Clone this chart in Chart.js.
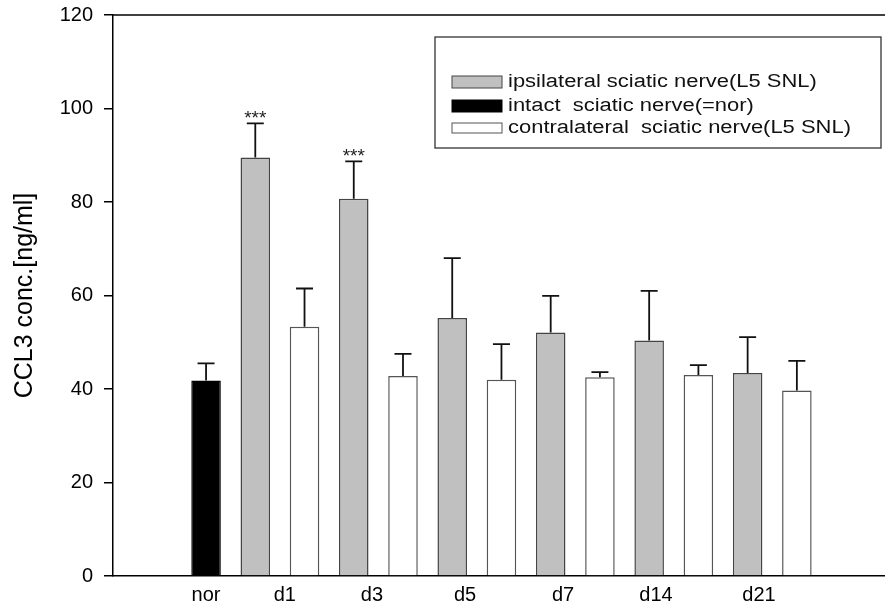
<!DOCTYPE html>
<html>
<head>
<meta charset="utf-8">
<script src="https://cdn.jsdelivr.net/npm/chart.js@4.4.1/dist/chart.umd.min.js"></script>
<style>
    html, body { margin: 0; padding: 0; background: #fff; }
    #wrap { width: 885px; height: 609px; }
</style>
</head>
<body>
<div id="wrap"><canvas id="chart"></canvas></div>
<script>
// Groups along the x axis
const groups = ['nor', 'd1', 'd3', 'd5', 'd7', 'd14', 'd21'];

// intact sciatic nerve (nor)
const intactMean = [41.8];
const intactErr = [3.7];

// ipsilateral sciatic nerve, d1..d21
const ipsiMean = [89.5, 80.7, 55.2, 52.1, 50.4, 43.4];
const ipsiErr = [7.3, 8.0, 12.8, 7.8, 10.6, 7.7];
const ipsiStars = ['***', '***', '', '', '', ''];

// contralateral sciatic nerve, d1..d21
const contraMean = [53.3, 42.8, 42.0, 42.5, 43.0, 39.7];
const contraErr = [8.2, 4.7, 7.6, 1.1, 2.1, 6.3];

const legendLabels = [
    'ipsilateral sciatic nerve(L5 SNL)',
    'intact  sciatic nerve(=nor)',
    'contralateral  sciatic nerve(L5 SNL)'
];

const FONT = 'Arial, "Liberation Sans", Helvetica, sans-serif';

// Bars sit on consecutive slots: nor, then ipsi/contra pairs per day
const intactPoints = intactMean.map((v, i) => ({ x: 0, y: v, err: intactErr[i], star: '' }));
const ipsiPoints = ipsiMean.map((v, i) => ({ x: 2 * i + 1, y: v, err: ipsiErr[i], star: ipsiStars[i] }));
const contraPoints = contraMean.map((v, i) => ({ x: 2 * i + 2, y: v, err: contraErr[i], star: '' }));

// Error bars (upper only), significance stars, frame top and legend box
const extrasPlugin = {
    id: 'extras',
    afterDatasetsDraw(chart) {
        const ctx = chart.ctx;
        const yScale = chart.scales.y;
        ctx.save();
        chart.data.datasets.forEach((ds, di) => {
            const meta = chart.getDatasetMeta(di);
            meta.data.forEach((bar, i) => {
                const pt = ds.data[i];
                const top = yScale.getPixelForValue(pt.y + pt.err);
                ctx.strokeStyle = '#111';
                ctx.lineWidth = 1.8;
                ctx.beginPath();
                ctx.moveTo(bar.x, bar.y);
                ctx.lineTo(bar.x, top);
                ctx.moveTo(bar.x - 8.5, top);
                ctx.lineTo(bar.x + 8.5, top);
                ctx.stroke();
                if (pt.star) {
                    ctx.fillStyle = '#222';
                    ctx.font = '19px ' + FONT;
                    ctx.textAlign = 'center';
                    ctx.textBaseline = 'alphabetic';
                    ctx.fillText(pt.star, bar.x, top + 1);
                }
            });
        });

        const area = chart.chartArea;
        // top frame line
        ctx.strokeStyle = '#000';
        ctx.lineWidth = 1.5;
        ctx.beginPath();
        ctx.moveTo(area.left, area.top);
        ctx.lineTo(area.right, area.top);
        ctx.stroke();

        // legend
        const bx = 435, by = 37, bw = 446, bh = 111;
        ctx.strokeStyle = '#333';
        ctx.lineWidth = 1.3;
        ctx.strokeRect(bx, by, bw, bh);
        const rows = [
            { y: 82, ds: chart.data.datasets[0] },
            { y: 106, ds: chart.data.datasets[1] },
            { y: 128, ds: chart.data.datasets[2] }
        ];
        rows.forEach((r, i) => {
            const h = i === 2 ? 10 : 12;
            ctx.fillStyle = r.ds.backgroundColor;
            ctx.fillRect(452, r.y - h / 2, 50, h);
            ctx.strokeStyle = r.ds.borderColor;
            ctx.lineWidth = 1;
            ctx.strokeRect(452, r.y - h / 2, 50, h);
            // the original lettering is a bit wider than tall
            ctx.save();
            ctx.translate(508, r.y);
            ctx.scale(1.22, 1);
            ctx.font = '18px ' + FONT;
            ctx.textAlign = 'left';
            ctx.textBaseline = 'middle';
            ctx.fillStyle = '#111';
            ctx.fillText(legendLabels[i], 0, 0);
            ctx.restore();
        });
        ctx.restore();
    }
};

const chart = new Chart(document.getElementById('chart'), {
    type: 'bar',
    data: {
        datasets: [
            {
                label: legendLabels[0],
                data: ipsiPoints,
                backgroundColor: '#c0c0c0',
                borderColor: '#444444',
                borderWidth: 1.5,
                grouped: false,
                barPercentage: 0.6,
                categoryPercentage: 1
            },
            {
                label: legendLabels[1],
                data: intactPoints,
                backgroundColor: '#000000',
                borderColor: '#000000',
                borderWidth: 1.5,
                grouped: false,
                barPercentage: 0.6,
                categoryPercentage: 1
            },
            {
                label: legendLabels[2],
                data: contraPoints,
                backgroundColor: '#ffffff',
                borderColor: '#555555',
                borderWidth: 1.5,
                grouped: false,
                barPercentage: 0.6,
                categoryPercentage: 1
            }
        ]
    },
    options: {
        responsive: true,
        maintainAspectRatio: false,
        animation: false,
        layout: { padding: { top: 15, right: 0, left: 0, bottom: 0 } },
        plugins: {
            legend: { display: false },
            tooltip: { enabled: false }
        },
        scales: {
            x: {
                type: 'linear',
                offset: false,
                min: -1.89,
                max: 13.79,
                grid: { display: false, drawTicks: false },
                border: { display: true, color: '#000', width: 1.5 },
                afterBuildTicks(scale) {
                    // label positions (in bar slots) as placed in the original figure
                    const slots = [0, 1.6, 3.37, 5.26, 7.25, 9.14, 11.23];
                    scale.ticks = slots.map(v => ({ value: v }));
                },
                afterFit(scale) { scale.height = 33; },
                ticks: {
                    autoSkip: false,
                    maxRotation: 0,
                    padding: 7,
                    color: '#000',
                    font: { family: FONT, size: 20 },
                    callback: (value, index) => groups[index]
                }
            },
            y: {
                min: 0,
                max: 120,
                grid: { drawOnChartArea: false, drawTicks: true, tickLength: 9, color: '#000', lineWidth: 1.5 },
                border: { display: true, color: '#000', width: 1.5 },
                afterFit(scale) {
                    scale.width = 113;
                    // let the top tick label overhang into the page margin
                    scale.paddingTop = 0;
                    scale.paddingBottom = 0;
                },
                ticks: {
                    stepSize: 20,
                    padding: 11,
                    color: '#000',
                    font: { family: FONT, size: 20 }
                },
                title: {
                    display: true,
                    text: 'CCL3 conc.[ng/ml]',
                    color: '#000',
                    font: { family: FONT, size: 25 },
                    padding: { top: 10, bottom: 0 }
                }
            }
        }
    },
    plugins: [extrasPlugin]
});
</script>
</body>
</html>
